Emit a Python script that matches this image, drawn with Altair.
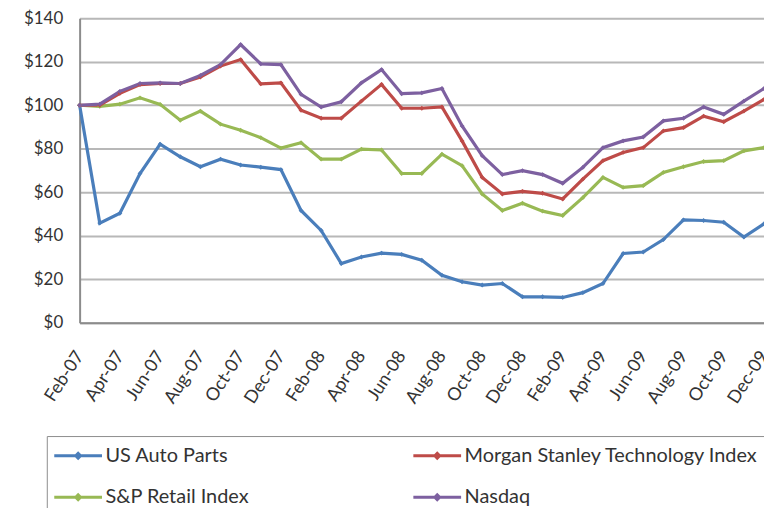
import altair as alt
import pandas as pd

months = ["Feb-07", "Mar-07", "Apr-07", "May-07", "Jun-07", "Jul-07", "Aug-07", "Sep-07",
          "Oct-07", "Nov-07", "Dec-07", "Jan-08", "Feb-08", "Mar-08", "Apr-08", "May-08",
          "Jun-08", "Jul-08", "Aug-08", "Sep-08", "Oct-08", "Nov-08", "Dec-08", "Jan-09",
          "Feb-09", "Mar-09", "Apr-09", "May-09", "Jun-09", "Jul-09", "Aug-09", "Sep-09",
          "Oct-09", "Nov-09", "Dec-09"]

us_auto_parts = [100, 45.8, 50.3, 68.6, 82.1, 76.3, 71.7, 75.2, 72.5, 71.5, 70.4, 51.6,
                 42.4, 27.2, 30.2, 32.0, 31.4, 28.7, 21.8, 18.8, 17.3, 18.0, 11.9, 11.9,
                 11.6, 13.8, 18.0, 31.8, 32.5, 38.2, 47.3, 47.0, 46.2, 39.4, 45.5]
sp_retail = [100, 99.5, 100.5, 103.4, 100.4, 93.1, 97.3, 91.3, 88.5, 85.1, 80.3, 82.8,
             75.2, 75.2, 79.8, 79.4, 68.6, 68.6, 77.5, 72.2, 59.2, 51.6, 54.9, 51.3,
             49.3, 57.5, 66.8, 62.2, 63.0, 69.1, 71.7, 74.1, 74.5, 79.0, 80.5]
ms_tech = [100, 100, 105.5, 109.5, 110, 110, 113, 118, 121, 109.8, 110.3, 97.7,
           94, 94, 101.9, 109.6, 98.6, 98.6, 99.2, 83.6, 66.8, 59.2, 60.4, 59.5,
           56.9, 66, 74.5, 78.3, 80.5, 88.2, 89.7, 95, 92.4, 97.3, 102.7]
nasdaq = [100, 100.5, 106.4, 110, 110.3, 110, 113.7, 118.7, 127.9, 119, 118.7, 105,
          99.2, 101.6, 110.3, 116.4, 105.3, 105.7, 107.7, 90.5, 76.8, 68.1, 69.9, 68.1,
          64.1, 71.4, 80.5, 83.6, 85.4, 92.8, 94, 99.2, 95.8, 101.9, 107.7]

series_names = ["US Auto Parts", "Morgan Stanley Technology Index", "S&P Retail Index", "Nasdaq"]
series_colors = ["#4A7EBB", "#BE4B48", "#98B954", "#7D60A0"]
draw_order = [("US Auto Parts", us_auto_parts), ("S&P Retail Index", sp_retail),
              ("Morgan Stanley Technology Index", ms_tech), ("Nasdaq", nasdaq)]

rows = []
for k, (name, vals) in enumerate(draw_order):
    for i, (m, v) in enumerate(zip(months, vals)):
        rows.append({"month": m, "value": v, "series": name, "order": k})
df = pd.DataFrame(rows)

label_months = months[::2]
FONT = "Lato"

x_enc = alt.X("month:N", sort=months, scale=alt.Scale(type="point", padding=0),
              axis=alt.Axis(values=label_months, title=None, labelAngle=-57, labelFontSize=18,
                            labelFont=FONT, labelColor="#333", labelAlign="right",
                            labelBaseline="middle", labelPadding=30, ticks=False,
                            domainColor="#8c8c8c", domainWidth=2, grid=False))
y_enc = alt.Y("value:Q", scale=alt.Scale(domain=[0, 140], nice=False),
              axis=alt.Axis(values=[0, 20, 40, 60, 80, 100, 120, 140], format="$,.0f",
                            title=None, labelFontSize=17, labelFont=FONT, labelColor="#333",
                            labelPadding=17, ticks=False, domainColor="#8c8c8c",
                            domainWidth=2, gridColor="#b8b8b8", gridWidth=2))

color_scale = alt.Scale(domain=series_names, range=series_colors)
# legend symbol: a line with a small diamond marker
sym_path = "M-1,0L3,0M0.8,0L1,-0.2L1.2,0L1,0.2Z"

lines = alt.Chart(df).mark_line(strokeWidth=3.2).encode(
    x=x_enc, y=y_enc,
    color=alt.Color("series:N", scale=color_scale, sort=series_names,
                    legend=alt.Legend(title=None, orient="none", legendX=-33, legendY=420,
                                      direction="horizontal", columns=2, columnPadding=158,
                                      rowPadding=18, labelFontSize=20, labelFont=FONT,
                                      labelColor="#333", symbolType=sym_path, symbolSize=576,
                                      symbolStrokeWidth=3, labelOffset=26,
                                      strokeColor="#8c8c8c", padding=6,
                                      labelLimit=400)),
    order=alt.Order("order:Q"),
)

points = alt.Chart(df).mark_point(shape="diamond", filled=True, size=24, opacity=1).encode(
    x=alt.X("month:N", sort=months), y="value:Q",
    color=alt.Color("series:N", scale=color_scale, legend=None),
)

chart = alt.layer(lines, points).properties(
    width=688, height=306,
    autosize=alt.AutoSizeParams(type="none"),
    padding={"left": 72, "top": 9, "right": 0, "bottom": 185},
).configure_view(stroke=None).configure(background="white")

chart.save("out.html", embed_options={"renderer": "svg", "actions": False})
